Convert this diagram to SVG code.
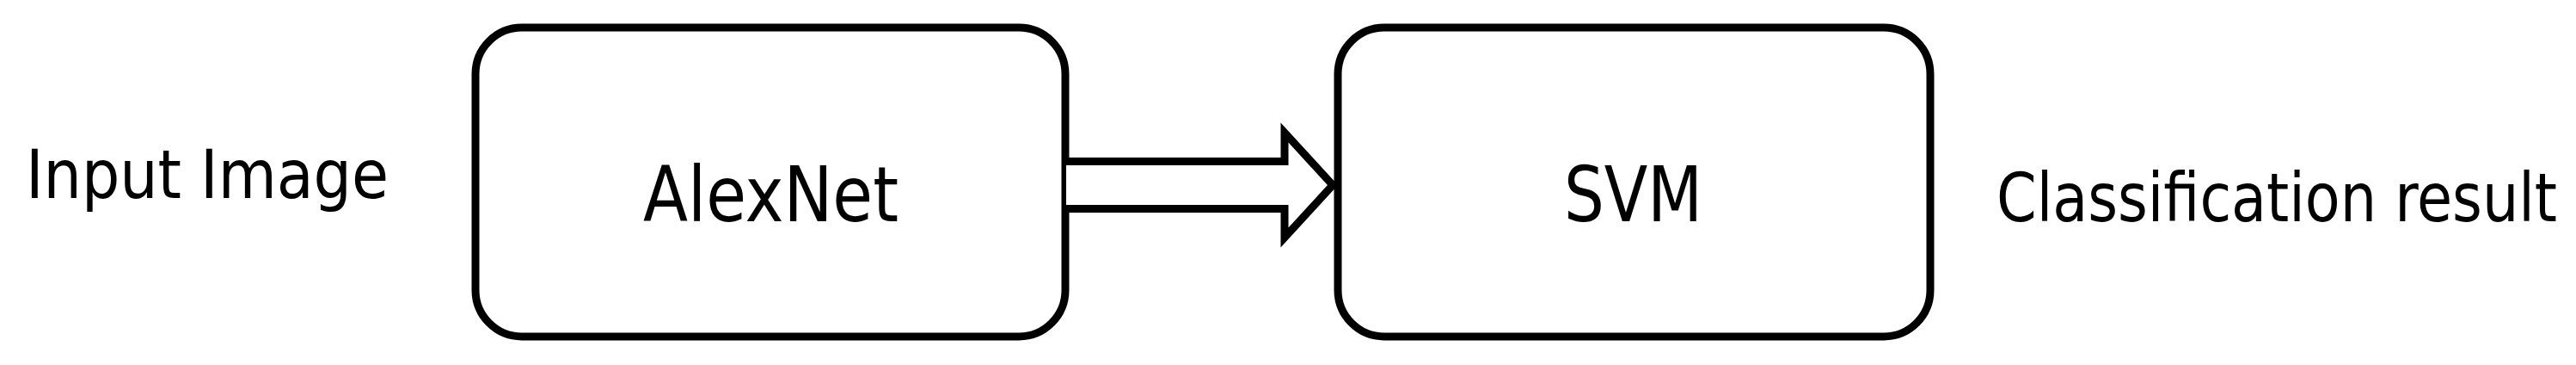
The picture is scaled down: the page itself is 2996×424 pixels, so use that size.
<svg xmlns="http://www.w3.org/2000/svg" width="2996" height="424" viewBox="0 0 2996 424">
<style>
.box{fill:#ffffff;stroke:#000000;stroke-width:9}
.lbl{font-family:"DejaVu Sans Condensed","DejaVu Sans",sans-serif;fill:#000000}
.conn{fill:#ffffff;stroke:#000000;stroke-width:9;stroke-linejoin:miter;stroke-miterlimit:10}
</style>
<rect width="2996" height="424" fill="#ffffff"/>
<g id="input-label">
<text class="lbl" x="30" y="230" font-size="78" textLength="422" lengthAdjust="spacingAndGlyphs">Input Image</text>
</g>
<g id="alexnet">
<rect class="box" x="553" y="32" width="686" height="359" rx="54" ry="54"/>
<text class="lbl" x="748" y="257" font-size="89" textLength="297" lengthAdjust="spacingAndGlyphs">AlexNet</text>
</g>
<g id="svm">
<rect class="box" x="1556" y="32" width="689" height="359" rx="54" ry="54"/>
<text class="lbl" x="1819" y="257" font-size="89" textLength="161" lengthAdjust="spacingAndGlyphs">SVM</text>
</g>
<g id="result-label">
<text class="lbl" x="2322" y="257" font-size="78" textLength="652" lengthAdjust="spacingAndGlyphs">Classification result</text>
</g>
<g id="connectors">
<path class="conn" d="M1240,187.5 H1494 V154 L1550,215 L1494,276 V242.5 H1240"/>
</g>
</svg>
